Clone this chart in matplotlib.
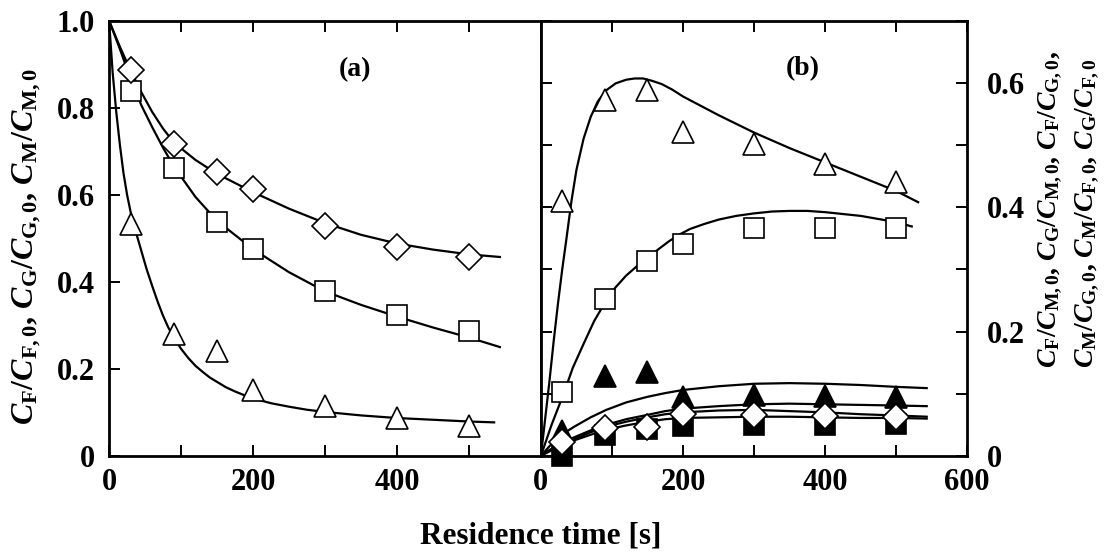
import numpy as np
import matplotlib
matplotlib.use("Agg")
from matplotlib import pyplot as plt

plt.rcParams['font.family'] = ['Liberation Serif', 'DejaVu Serif']
plt.rcParams['font.weight'] = 'bold'
plt.rcParams['mathtext.fontset'] = 'custom'
plt.rcParams['mathtext.rm'] = 'Liberation Serif:bold'
plt.rcParams['mathtext.it'] = 'Liberation Serif:italic:bold'
plt.rcParams['mathtext.bf'] = 'Liberation Serif:bold'

# measured residence times [s]
t_exp = [30, 90, 150, 200, 300, 400, 500]

# panel (a): normalised concentrations
a_diamond = [0.887, 0.717, 0.652, 0.613, 0.528, 0.48, 0.457]
a_square = [0.839, 0.661, 0.537, 0.476, 0.378, 0.323, 0.286]
a_triangle = [0.532, 0.279, 0.24, 0.152, 0.115, 0.088, 0.069]

# panel (a): model curves
a_fit_dia_t = [0, 15, 30, 45, 60, 75, 90, 120, 150, 200, 250, 300, 350, 400, 450, 500, 543]
a_fit_dia = [1.0, 0.94, 0.885, 0.835, 0.79, 0.752, 0.72, 0.68, 0.648, 0.606, 0.568, 0.535, 0.508, 0.488, 0.474, 0.463, 0.457]
a_fit_sq_t = [0, 15, 30, 45, 60, 75, 90, 120, 150, 200, 250, 300, 350, 400, 450, 500, 543]
a_fit_sq = [1.0, 0.935, 0.865, 0.805, 0.755, 0.708, 0.665, 0.595, 0.54, 0.475, 0.422, 0.378, 0.347, 0.32, 0.295, 0.272, 0.25]
a_fit_tri_t = [0, 5, 10, 15, 20, 25, 30, 38, 45, 52, 60, 68, 75, 82, 90, 100, 110, 120, 130, 140, 150, 162, 175, 187, 200, 225, 250, 275, 300, 350, 400, 450, 500, 535]
a_fit_tri = [1.0, 0.88, 0.79, 0.715, 0.65, 0.6, 0.56, 0.51, 0.47, 0.43, 0.39, 0.352, 0.322, 0.296, 0.272, 0.246, 0.225, 0.207, 0.193, 0.18, 0.17, 0.158, 0.148, 0.14, 0.132, 0.121, 0.113, 0.106, 0.101, 0.093, 0.087, 0.083, 0.079, 0.077]

# panel (b): yields
b_tri_open = [0.41, 0.572, 0.589, 0.521, 0.501, 0.47, 0.441]
b_sq_open = [0.102, 0.252, 0.313, 0.34, 0.367, 0.367, 0.367]
b_tri_fill = [0.04, 0.129, 0.135, 0.094, 0.098, 0.096, 0.094]
b_sq_fill = [0.0, 0.033, 0.043, 0.048, 0.049, 0.05, 0.052]
b_diamond = [0.023, 0.045, 0.046, 0.068, 0.065, 0.064, 0.062]

# panel (b): model curves
b_fit_tri_t = [0, 6, 12, 18, 24, 30, 36, 43, 50, 60, 70, 80, 92, 105, 120, 132, 144, 157, 170, 185, 200, 225, 250, 275, 300, 350, 400, 450, 500, 531]
b_fit_tri = [0, 0.06, 0.12, 0.185, 0.245, 0.30, 0.35, 0.41, 0.46, 0.51, 0.545, 0.57, 0.588, 0.599, 0.605, 0.607, 0.607, 0.603, 0.598, 0.589, 0.578, 0.563, 0.548, 0.534, 0.52, 0.495, 0.472, 0.449, 0.426, 0.408]
b_fit_sq_t = [0, 15, 32, 45, 60, 75, 92, 105, 120, 135, 150, 165, 180, 195, 210, 230, 250, 275, 300, 325, 350, 375, 400, 450, 500, 522]
b_fit_sq = [0, 0.05, 0.10, 0.142, 0.18, 0.217, 0.25, 0.271, 0.29, 0.305, 0.318, 0.332, 0.345, 0.356, 0.365, 0.373, 0.38, 0.386, 0.39, 0.393, 0.394, 0.394, 0.392, 0.386, 0.376, 0.369]
b_fit_low_t = [0, 10, 20, 33, 47, 70, 92, 120, 150, 175, 200, 250, 300, 350, 400, 450, 500, 543]
b_fit_1 = [0, 0.013, 0.025, 0.037, 0.047, 0.062, 0.074, 0.086, 0.095, 0.101, 0.106, 0.112, 0.116, 0.117, 0.116, 0.114, 0.111, 0.109]
b_fit_2 = [0, 0.008, 0.015, 0.023, 0.03, 0.041, 0.05, 0.059, 0.066, 0.072, 0.076, 0.08, 0.083, 0.084, 0.083, 0.082, 0.081, 0.080]
b_fit_3 = [0, 0.007, 0.013, 0.02, 0.027, 0.038, 0.047, 0.055, 0.062, 0.067, 0.07, 0.073, 0.074, 0.072, 0.07, 0.067, 0.065, 0.063]
b_fit_4 = [0, 0.006, 0.012, 0.019, 0.025, 0.034, 0.042, 0.049, 0.055, 0.059, 0.061, 0.062, 0.063, 0.063, 0.062, 0.061, 0.061, 0.060]

fig = plt.figure(figsize=(11.13, 5.58), dpi=100)
ax1 = fig.add_axes([0.098, 0.183, 0.388, 0.78])
ax2 = fig.add_axes([0.486, 0.183, 0.383, 0.78])

lw = 1.6
fs_tick = 22
open_kw = dict(ls='none', mfc='white', mec='black', mew=1.2, clip_on=False)
fill_kw = dict(ls='none', mfc='black', mec='black', mew=1.2, clip_on=False)

# ---- panel (a)
for tt, yy in [(a_fit_dia_t, a_fit_dia), (a_fit_sq_t, a_fit_sq), (a_fit_tri_t, a_fit_tri)]:
    ax1.plot(tt, yy, color='black', lw=lw, zorder=2)
ax1.plot(t_exp, a_triangle, marker='^', ms=15.5, zorder=4, **open_kw)
ax1.plot(t_exp, a_square, marker='s', ms=14.5, zorder=4, **open_kw)
ax1.plot(t_exp, a_diamond, marker='D', ms=13.5, zorder=5, **open_kw)

ax1.set_xlim(0, 600)
ax1.set_ylim(0, 1.0)
ax1.set_xticks(np.arange(0, 601, 100))
ax1.set_xticklabels(['0', '', '200', '', '400', '', ''])
ax1.set_yticks(np.arange(0, 1.01, 0.2))
ax1.set_yticklabels(['0', '0.2', '0.4', '0.6', '0.8', '1.0'])
ax1.tick_params(axis='x', direction='in', top=True, bottom=True, length=8, width=1.4,
                labelsize=fs_tick, pad=9)
ax1.tick_params(axis='y', direction='in', left=True, right=False, length=8, width=1.4,
                labelsize=fs_tick, pad=10)
ax1.text(342, 0.887, '(a)', fontsize=20, ha='center', va='center')

# ---- panel (b)
for tt, yy in [(b_fit_tri_t, b_fit_tri), (b_fit_sq_t, b_fit_sq)]:
    ax2.plot(tt, yy, color='black', lw=lw, zorder=2)
for yy in [b_fit_1, b_fit_2, b_fit_3, b_fit_4]:
    ax2.plot(b_fit_low_t, yy, color='black', lw=lw, zorder=2)
ax2.plot(t_exp, b_sq_fill, marker='s', ms=14.5, zorder=3, **fill_kw)
ax2.plot(t_exp, b_tri_fill, marker='^', ms=15.5, zorder=3, **fill_kw)
ax2.plot(t_exp, b_sq_open, marker='s', ms=15, zorder=4, **open_kw)
ax2.plot(t_exp, b_tri_open, marker='^', ms=15.5, zorder=4, **open_kw)
ax2.plot(t_exp, b_diamond, marker='D', ms=13.5, zorder=5, **open_kw)

ax2.set_xlim(0, 600)
ax2.set_ylim(0, 0.7)
ax2.set_xticks(np.arange(0, 601, 100))
ax2.set_xticklabels(['0', '', '200', '', '400', '', '600'])
ax2.set_yticks(np.arange(0, 0.71, 0.1))
ax2.set_yticklabels(['0', '', '0.2', '', '0.4', '', '0.6', ''])
ax2.yaxis.tick_right()
ax2.tick_params(axis='x', direction='in', top=True, bottom=True, length=8, width=1.4,
                labelsize=fs_tick, pad=9)
ax2.tick_params(axis='y', direction='in', left=True, right=True, labelleft=False,
                labelright=True, length=8, width=1.4, labelsize=fs_tick, pad=14)
ax2.text(369, 0.623, '(b)', fontsize=20, ha='center', va='center')

for ax in (ax1, ax2):
    for sp in ax.spines.values():
        sp.set_linewidth(2.0)

fig.text(0.486, 0.04, 'Residence time [s]', fontsize=22.5, ha='center', va='center')
fig.text(0.024, 0.238,
         r'$C_{\rm F}/C_{\rm F,0}$, $C_{\rm G}/C_{\rm G,0}$, $C_{\rm M}/C_{\rm M,0}$',
         fontsize=23, rotation=90, ha='center', va='bottom')
fig.text(0.943, 0.34,
         r'$C_{\rm F}/C_{\rm M,0}$, $C_{\rm G}/C_{\rm M,0}$, $C_{\rm F}/C_{\rm G,0}$,',
         fontsize=20, rotation=90, ha='center', va='bottom')
fig.text(0.977, 0.34,
         r'$C_{\rm M}/C_{\rm G,0}$, $C_{\rm M}/C_{\rm F,0}$, $C_{\rm G}/C_{\rm F,0}$',
         fontsize=20, rotation=90, ha='center', va='bottom')

fig.savefig('out.png', dpi=100)
